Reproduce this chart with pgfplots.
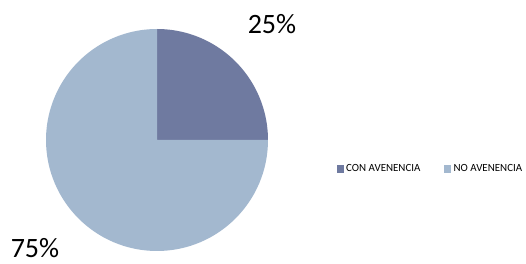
\documentclass[border=0pt]{standalone}
\usepackage{fontspec}
\setmainfont{Carlito}
\usepackage{pgfplots}
\usepackage{pgfplotstable}
\pgfplotsset{compat=1.18}
\definecolor{conav}{HTML}{6F7AA0}
\definecolor{noav}{HTML}{A3B8CF}
\pgfplotstableread{
label value
CON 25
NO 75
}\piedata
\pgfplotstablegetelem{0}{value}\of\piedata \let\va\pgfplotsretval
\pgfplotstablegetelem{1}{value}\of\piedata \let\vb\pgfplotsretval
\begin{document}
\begin{tikzpicture}
\begin{axis}[
  scale only axis, width=394.5pt, height=198pt,
  xmin=0, xmax=526, ymin=0, ymax=264,
  hide axis, clip=false,
  legend columns=2,
  legend style={draw=none, fill=none, font=\fontsize{8.2}{10}\selectfont,
    at={(axis cs:337,95)}, anchor=west,
    /tikz/column 1/.style={column sep=0pt},
    /tikz/column 2/.style={column sep=16pt},
    /tikz/column 3/.style={column sep=0pt},
    /tikz/column 4/.style={column sep=0pt},
    inner sep=0pt, outer sep=0pt},
  legend cell align=left,
  legend image code/.code={\fill[#1] (0pt,-2.6pt) rectangle (4.5pt,2.65pt);},
]
\path (axis cs:0,0) rectangle (axis cs:526,264);
\pgfmathsetmacro{\aA}{90-3.6*\va}
\pgfmathsetmacro{\aB}{\aA-3.6*\vb}
\fill[conav] (axis cs:157,124) -- ++(90:83.25pt) arc[start angle=90, end angle=\aA, radius=83.25pt] -- cycle;
\fill[noav] (axis cs:157,124) -- ++(\aA:83.25pt) arc[start angle=\aA, end angle=\aB, radius=83.25pt] -- cycle;
\node[font=\fontsize{21}{24}\selectfont] at (axis cs:272,240) {\va\%};
\node[font=\fontsize{21}{24}\selectfont] at (axis cs:35,16) {\vb\%};
\addlegendimage{conav}
\addlegendentry{CON AVENENCIA}
\addlegendimage{noav}
\addlegendentry{NO AVENENCIA}
\end{axis}
\end{tikzpicture}
\end{document}
